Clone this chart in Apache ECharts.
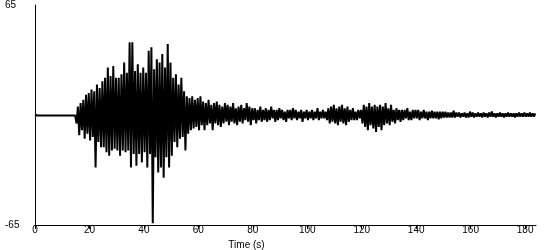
<!DOCTYPE html>
<html>
<head>
<meta charset="utf-8">
<script src="https://cdn.jsdelivr.net/npm/echarts@6/dist/echarts.min.js"></script>
<style>
html,body{margin:0;padding:0;background:#fff;}
#chart{width:550px;height:250px;}
</style>
</head>
<body>
<div id="chart"></div>
<script>
// Acceleration record (cm/s/s), sampled every 0.5 s from t = 0 s
const sampleStep = 0.5;
const preEvent = [
  0.3,-0.3,0.3,-0.3,0.3,-0.3,0.3,-0.3,0.3,-0.3,
  0.3,-0.3,0.3,-0.3,0.3,-0.3,0.3,-0.3,0.3,-0.3,
  0.3,-0.3,0.3,-0.3,0.3,-0.3,0.3,-0.3,0.3,-0.3
];
const strongMotion = [
  0,
  -5, 5, -12, 7, -9, 9, -14, 12, -11, 13,
  -15, 15, -13, 14, -31, 18, -16, 16, -19, 20,
  -19, 22, -22, 28, -24, 23, -21, 29, -20, 22,
  -21, 22, -24, 24, -21, 31, -22, 25, -21, 43,
  -31, 43, -23, 26, -30, 30, -23, 25, -28, 28,
  -22, 25, -31, 38, -23, 40, -64, 27, -25, 33,
  -34, 31, -31, 36, -37, 28, -25, 42, -31, 31,
  -24, 22, -16, 24, -19, 18, -14, 22, -13, 14,
  -21, 11, -11, 10, -9, 11, -8, 9, -7, 10
];
const coda = [
  -9, 11, -6, 8, -9, 7, -6, 9, -5, 6,
  -9, 7, -5, 8, -6, 6, -7, 5, -5, 7,
  -4, 6, -6, 5, -4, 7, -5, 4, -6, 5,
  -4, 6, -5, 4, -3, 7, -4, 5, -6, 4,
  -3, 4, -5, 3, -3, 5, -4, 3, -3, 4,
  -4, 3, -3, 5, -2, 3, -4, 3, -3, 4,
  -2, 3, -3, 2, -4, 3, -2, 3, -3, 4,
  -2, 3, -3, 2, -2, 3, -4, 2, -2, 3,
  -3, 2, -2, 3, -3, 2, -2, 4, -3, 2,
  -2, 3, -2, 2, -3, 4, -5, 5, -4, 6,
  -5, 4, -6, 5, -4, 6, -5, 4, -6, 5,
  -4, 3, -3, 4, -3, 2, -3, 3, -2, 3,
  -5, 6, -7, 5, -9, 7, -6, 5, -8, 6,
  -10, 5, -7, 6, -9, 5, -6, 7, -5, 4,
  -6, 6, -4, 3, -5, 4, -3, 3, -4, 3,
  -3, 3, -2, 4, -3, 2, -3, 3, -2, 3,
  -2, 3, -3, 2, -2, 3, -2, 2, -3, 2,
  -2, 2.5, -2, 2, -2, 2, -2.5, 2, -2, 2,
  -1.5, 2, -1.5, 1.5, -1.5, 1.5, -1.5, 2.5, -1.5, 1.5,
  -1, 1.5, -1.5, 1, -1, 1.5, -1.5, 1, -1.5, 2,
  -1, 1.5, -1.5, 1, -1, 1.5, -1, 1, -1.5, 1.5,
  -1, 1, -1.5, 1.5, -1, 2, -1, 1, -1.5, 1,
  -1, 1.5, -1, 1, -1.5, 1, -1, 1.5, -1, 1,
  -1, 1, -1.5, 1, -1, 1.5, -1, 1, -1, 1.5,
  -1, 1, -1, 1.5, -1, 1, -1, 1
];
const xTicks = [0, 20, 40, 60, 80, 100, 120, 140, 160, 180];
const yTicks = [-65, 65];
const xRange = [0, 184];
const yRange = [-65, 65];

const values = preEvent.concat(strongMotion, coda);
const seriesData = values.map((v, i) => [i * sampleStep, v]);

const chart = echarts.init(document.getElementById('chart'), null, {renderer: 'canvas'});
const font = 'Liberation Sans, Arial, sans-serif';
chart.setOption({
  animation: false,
  backgroundColor: '#ffffff',
  grid: {left: 35, right: 14, top: 5, bottom: 25, containLabel: false, outerBoundsMode: 'none'},
  xAxis: {
    type: 'value',
    min: xRange[0], max: xRange[1],
    name: 'Time (s)',
    nameLocation: 'middle',
    nameGap: 7,
    nameTextStyle: {color: '#000', fontFamily: font, fontSize: 10, padding: [0, 78, 0, 0]},
    axisLine: {show: true, onZero: false, lineStyle: {color: '#000', width: 1}},
    axisTick: {show: true, inside: false, length: 4, customValues: xTicks, lineStyle: {color: '#000'}},
    axisLabel: {color: '#000', fontFamily: font, fontSize: 10, margin: 0, customValues: xTicks},
    splitLine: {show: false}
  },
  yAxis: {
    type: 'value',
    min: yRange[0], max: yRange[1],
    name: 'cm/s/s',
    nameLocation: 'middle',
    nameRotate: 90,
    nameGap: 20,
    nameTextStyle: {color: '#000', fontFamily: font, fontSize: 10},
    axisLine: {show: true, onZero: false, lineStyle: {color: '#000', width: 1}},
    axisTick: {show: false},
    axisLabel: {color: '#000', fontFamily: font, fontSize: 10, align: 'left', margin: 30, customValues: yTicks},
    splitLine: {show: false}
  },
  series: [{
    type: 'line',
    data: seriesData,
    symbol: 'none',
    sampling: null,
    smooth: false,
    step: 'middle',
    lineStyle: {color: '#000', width: 2},
    silent: true
  }]
});
</script>
</body>
</html>
